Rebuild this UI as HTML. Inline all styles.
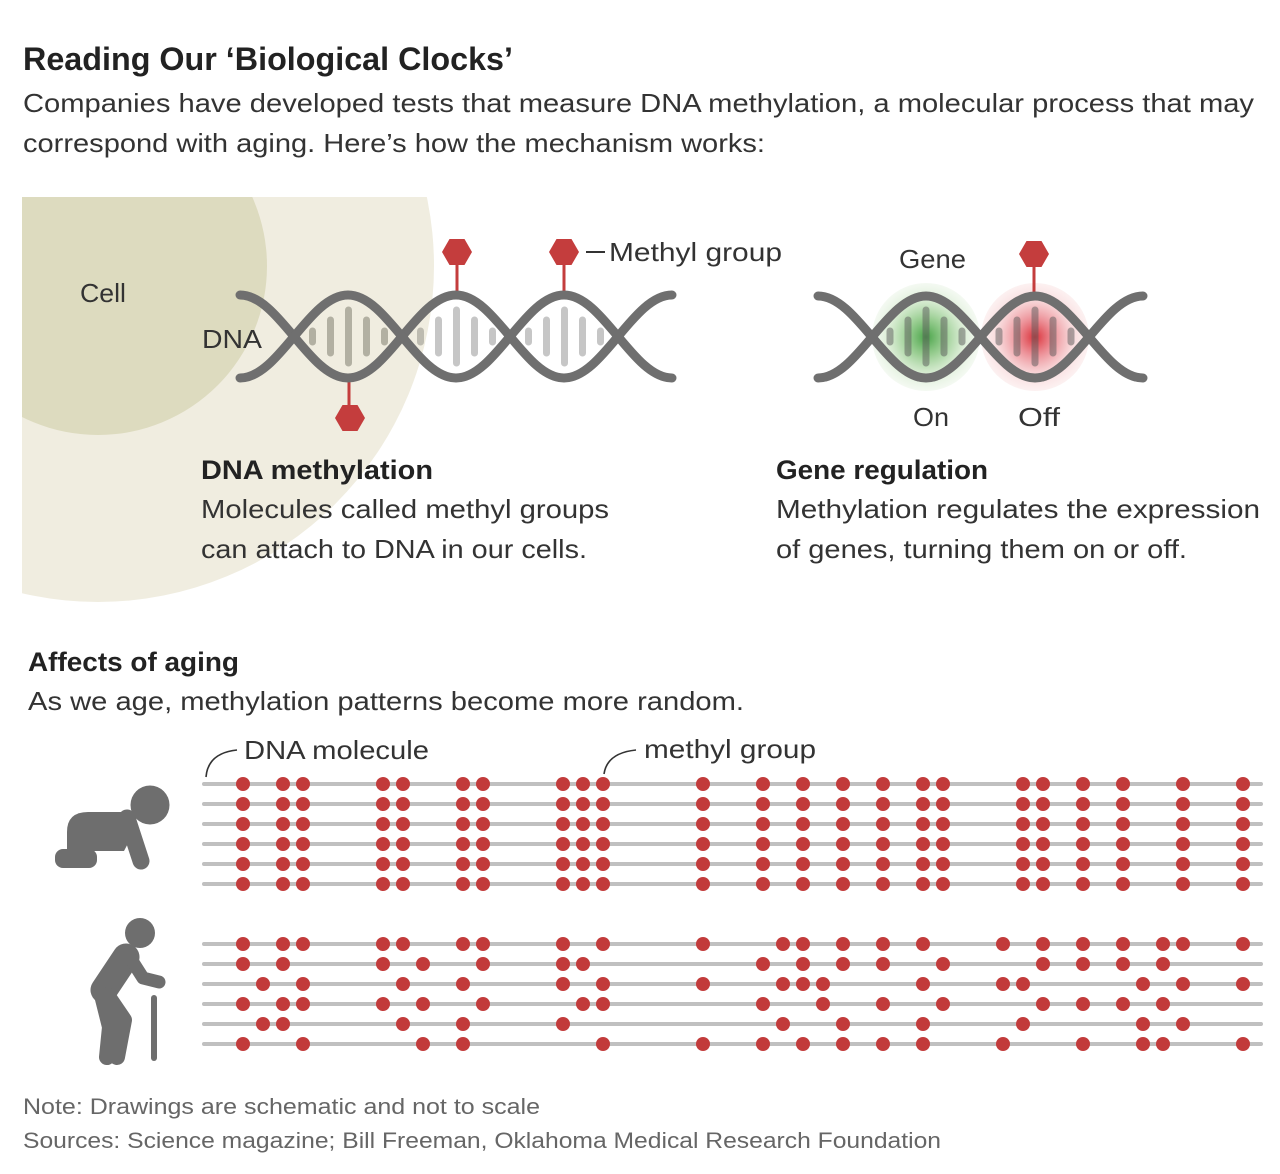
<!DOCTYPE html>
<html>
<head>
<meta charset="utf-8">
<style>
  html,body{margin:0;padding:0;background:#fff;}
  svg{display:block;}
  text{font-family:"Liberation Sans", Arial, sans-serif;}
</style>
</head>
<body>
<svg width="1280" height="1174" viewBox="0 0 1280 1174" xmlns="http://www.w3.org/2000/svg">
  <defs>
    <clipPath id="cellclip"><rect x="22" y="197" width="500" height="420"/></clipPath>
    <radialGradient id="gG" cx="0.5" cy="0.5" r="0.5">
      <stop offset="0" stop-color="#3e9e3e" stop-opacity="0.95"/>
      <stop offset="0.35" stop-color="#79be6f" stop-opacity="0.75"/>
      <stop offset="0.7" stop-color="#c4e2bb" stop-opacity="0.6"/>
      <stop offset="1" stop-color="#e4f1df" stop-opacity="0.4"/>
    </radialGradient>
    <radialGradient id="gR" cx="0.5" cy="0.5" r="0.5">
      <stop offset="0" stop-color="#d8262f" stop-opacity="0.95"/>
      <stop offset="0.35" stop-color="#e7717a" stop-opacity="0.75"/>
      <stop offset="0.7" stop-color="#f4c2c5" stop-opacity="0.6"/>
      <stop offset="1" stop-color="#f9e0e0" stop-opacity="0.45"/>
    </radialGradient>
  </defs>

  <!-- Title & subtitle -->
  <text x="23" y="70" font-size="32" font-weight="bold" fill="#222" textLength="490" lengthAdjust="spacingAndGlyphs">Reading Our ‘Biological Clocks’</text>
  <text x="23" y="112" font-size="26" fill="#333" textLength="1231" lengthAdjust="spacingAndGlyphs">Companies have developed tests that measure DNA methylation, a molecular process that may</text>
  <text x="23" y="152" font-size="26" fill="#333" textLength="742" lengthAdjust="spacingAndGlyphs">correspond with aging. Here’s how the mechanism works:</text>

  <!-- Cell -->
  <g clip-path="url(#cellclip)">
    <circle cx="98" cy="266" r="336" fill="#f0ede0"/>
    <circle cx="98" cy="266" r="169" fill="#dddbbf"/>
  </g>
  <text x="80" y="302" font-size="26" fill="#333" textLength="46" lengthAdjust="spacingAndGlyphs">Cell</text>
  <text x="202" y="348" font-size="26" fill="#333" textLength="60" lengthAdjust="spacingAndGlyphs">DNA</text>

  <!-- Main helix rungs -->
  <g fill="#b2b0a2">
    <rect x="309" y="327.5" width="7" height="18" rx="3.5"/>
    <rect x="327" y="316.5" width="7" height="40" rx="3.5"/>
    <rect x="345" y="306.5" width="7" height="60" rx="3.5"/>
    <rect x="363" y="316.5" width="7" height="40" rx="3.5"/>
    <rect x="381" y="327.5" width="7" height="18" rx="3.5"/>
  </g>
  <g fill="#c6c6c6">
    <rect x="417" y="327.5" width="7" height="18" rx="3.5" fill="#bdbbb0"/>
    <rect x="435" y="316.5" width="7" height="40" rx="3.5"/>
    <rect x="453" y="306.5" width="7" height="60" rx="3.5"/>
    <rect x="471" y="316.5" width="7" height="40" rx="3.5"/>
    <rect x="489" y="327.5" width="7" height="18" rx="3.5"/>
    <rect x="525" y="327.5" width="7" height="18" rx="3.5"/>
    <rect x="543" y="316.5" width="7" height="40" rx="3.5"/>
    <rect x="561" y="306.5" width="7" height="60" rx="3.5"/>
    <rect x="579" y="316.5" width="7" height="40" rx="3.5"/>
    <rect x="597" y="327.5" width="7" height="18" rx="3.5"/>
  </g>

  <!-- Methyl stems (main) -->
  <g stroke="#c43d3d" stroke-width="3">
    <line x1="457" y1="262" x2="457" y2="295"/>
    <line x1="564" y1="262" x2="564" y2="295"/>
    <line x1="349" y1="378" x2="349" y2="408"/>
  </g>

  <!-- Main helix strands -->
  <g fill="none" stroke="#6f6f6f" stroke-width="9" stroke-linecap="round">
    <path d="M240 295 C279 295 309 378 348 378 C387 378 417 295 456 295 C495 295 525 378 564 378 C603 378 633 295 672 295"/>
    <path d="M240 378 C279 378 309 295 348 295 C387 295 417 378 456 378 C495 378 525 295 564 295 C603 295 633 378 672 378"/>
  </g>

  <!-- Hexagons main -->
  <g fill="#c43d3d">
    <polygon points="442,252 449.5,239 464.5,239 472,252 464.5,265 449.5,265"/>
    <polygon points="549,252 556.5,239 571.5,239 579,252 571.5,265 556.5,265"/>
    <polygon points="335,418 342.5,405 357.5,405 365,418 357.5,431 342.5,431"/>
  </g>
  <line x1="586" y1="252" x2="605" y2="252" stroke="#333" stroke-width="2"/>
  <text x="609" y="261" font-size="26" fill="#333" textLength="173" lengthAdjust="spacingAndGlyphs">Methyl group</text>

  <!-- Gene helix -->
  <circle cx="926" cy="337" r="54" fill="url(#gG)"/>
  <circle cx="1035" cy="337" r="54" fill="url(#gR)"/>
  <g fill="#5a5a5a" fill-opacity="0.5">
    <rect x="886.5" y="327.5" width="7" height="18" rx="3.5"/>
    <rect x="904.5" y="316.5" width="7" height="40" rx="3.5"/>
    <rect x="922.5" y="306.5" width="7" height="60" rx="3.5"/>
    <rect x="940.5" y="316.5" width="7" height="40" rx="3.5"/>
    <rect x="958.5" y="327.5" width="7" height="18" rx="3.5"/>
    <rect x="995.5" y="327.5" width="7" height="18" rx="3.5"/>
    <rect x="1013.5" y="316.5" width="7" height="40" rx="3.5"/>
    <rect x="1031.5" y="306.5" width="7" height="60" rx="3.5"/>
    <rect x="1049.5" y="316.5" width="7" height="40" rx="3.5"/>
    <rect x="1067.5" y="327.5" width="7" height="18" rx="3.5"/>
  </g>
  <line x1="1034" y1="264" x2="1034" y2="296" stroke="#c43d3d" stroke-width="3"/>
  <g fill="none" stroke="#6f6f6f" stroke-width="9" stroke-linecap="round">
    <path d="M818 296 C857 296 887 378 926 378 C965 378 996 296 1035 296 C1074 296 1104 378 1143 378"/>
    <path d="M818 378 C857 378 887 296 926 296 C965 296 996 378 1035 378 C1074 378 1104 296 1143 296"/>
  </g>
  <polygon points="1019,254 1026.5,241 1041.5,241 1049,254 1041.5,267 1026.5,267" fill="#c43d3d"/>
  <text x="899" y="268" font-size="26" fill="#333" textLength="67" lengthAdjust="spacingAndGlyphs">Gene</text>
  <text x="913" y="426" font-size="26" fill="#333" textLength="36" lengthAdjust="spacingAndGlyphs">On</text>
  <text x="1018" y="426" font-size="26" fill="#333" textLength="42" lengthAdjust="spacingAndGlyphs">Off</text>

  <!-- Descriptions -->
  <text x="201" y="479" font-size="27" font-weight="bold" fill="#222" textLength="232" lengthAdjust="spacingAndGlyphs">DNA methylation</text>
  <text x="201" y="518" font-size="26" fill="#333" textLength="408" lengthAdjust="spacingAndGlyphs">Molecules called methyl groups</text>
  <text x="201" y="558" font-size="26" fill="#333" textLength="386" lengthAdjust="spacingAndGlyphs">can attach to DNA in our cells.</text>

  <text x="776" y="479" font-size="27" font-weight="bold" fill="#222" textLength="212" lengthAdjust="spacingAndGlyphs">Gene regulation</text>
  <text x="776" y="518" font-size="26" fill="#333" textLength="484" lengthAdjust="spacingAndGlyphs">Methylation regulates the expression</text>
  <text x="776" y="558" font-size="26" fill="#333" textLength="411" lengthAdjust="spacingAndGlyphs">of genes, turning them on or off.</text>

  <!-- Aging section -->
  <text x="28" y="671" font-size="27" font-weight="bold" fill="#222" textLength="211" lengthAdjust="spacingAndGlyphs">Affects of aging</text>
  <text x="28" y="710" font-size="26" fill="#333" textLength="716" lengthAdjust="spacingAndGlyphs">As we age, methylation patterns become more random.</text>

  <text x="244" y="759" font-size="26" fill="#333" textLength="185" lengthAdjust="spacingAndGlyphs">DNA molecule</text>
  <text x="644" y="758" font-size="26" fill="#333" textLength="172" lengthAdjust="spacingAndGlyphs">methyl group</text>
  <g fill="none" stroke="#333" stroke-width="1.6">
    <path d="M206 777 Q208 753 237 750"/>
    <path d="M604 774 Q607 753 636 750"/>
  </g>

  <!-- DNA lines -->
  <g stroke="#c0c0c0" stroke-width="4" stroke-linecap="round">
    <line x1="204" y1="784" x2="1261" y2="784"/>
    <line x1="204" y1="804" x2="1261" y2="804"/>
    <line x1="204" y1="824" x2="1261" y2="824"/>
    <line x1="204" y1="844" x2="1261" y2="844"/>
    <line x1="204" y1="864" x2="1261" y2="864"/>
    <line x1="204" y1="884" x2="1261" y2="884"/>
    <line x1="204" y1="944" x2="1261" y2="944"/>
    <line x1="204" y1="964" x2="1261" y2="964"/>
    <line x1="204" y1="984" x2="1261" y2="984"/>
    <line x1="204" y1="1004" x2="1261" y2="1004"/>
    <line x1="204" y1="1024" x2="1261" y2="1024"/>
    <line x1="204" y1="1044" x2="1261" y2="1044"/>
  </g>

  <!-- Baby dots: pattern repeated on 6 rows -->
  <defs>
    <g id="babyrow" fill="#c23b3b">
      <circle cx="243" cy="0" r="7"/><circle cx="283" cy="0" r="7"/><circle cx="303" cy="0" r="7"/>
      <circle cx="383" cy="0" r="7"/><circle cx="403" cy="0" r="7"/>
      <circle cx="463" cy="0" r="7"/><circle cx="483" cy="0" r="7"/>
      <circle cx="563" cy="0" r="7"/><circle cx="583" cy="0" r="7"/><circle cx="603" cy="0" r="7"/>
      <circle cx="703" cy="0" r="7"/><circle cx="763" cy="0" r="7"/><circle cx="803" cy="0" r="7"/>
      <circle cx="843" cy="0" r="7"/><circle cx="883" cy="0" r="7"/><circle cx="923" cy="0" r="7"/>
      <circle cx="943" cy="0" r="7"/><circle cx="1023" cy="0" r="7"/><circle cx="1043" cy="0" r="7"/>
      <circle cx="1083" cy="0" r="7"/><circle cx="1123" cy="0" r="7"/><circle cx="1183" cy="0" r="7"/>
      <circle cx="1243" cy="0" r="7"/>
    </g>
  </defs>
  <use href="#babyrow" y="784"/>
  <use href="#babyrow" y="804"/>
  <use href="#babyrow" y="824"/>
  <use href="#babyrow" y="844"/>
  <use href="#babyrow" y="864"/>
  <use href="#babyrow" y="884"/>

  <!-- Elder dots -->
  <g fill="#c23b3b">
    <!-- row 944 -->
    <circle cx="243" cy="944" r="7"/><circle cx="283" cy="944" r="7"/><circle cx="303" cy="944" r="7"/>
    <circle cx="383" cy="944" r="7"/><circle cx="403" cy="944" r="7"/><circle cx="463" cy="944" r="7"/>
    <circle cx="483" cy="944" r="7"/><circle cx="563" cy="944" r="7"/><circle cx="603" cy="944" r="7"/>
    <circle cx="703" cy="944" r="7"/><circle cx="783" cy="944" r="7"/><circle cx="803" cy="944" r="7"/>
    <circle cx="843" cy="944" r="7"/><circle cx="883" cy="944" r="7"/><circle cx="923" cy="944" r="7"/>
    <circle cx="1003" cy="944" r="7"/><circle cx="1043" cy="944" r="7"/><circle cx="1083" cy="944" r="7"/>
    <circle cx="1123" cy="944" r="7"/><circle cx="1163" cy="944" r="7"/><circle cx="1183" cy="944" r="7"/>
    <circle cx="1243" cy="944" r="7"/>
    <!-- row 964 -->
    <circle cx="243" cy="964" r="7"/><circle cx="283" cy="964" r="7"/><circle cx="383" cy="964" r="7"/>
    <circle cx="423" cy="964" r="7"/><circle cx="483" cy="964" r="7"/><circle cx="563" cy="964" r="7"/>
    <circle cx="583" cy="964" r="7"/><circle cx="763" cy="964" r="7"/><circle cx="803" cy="964" r="7"/>
    <circle cx="843" cy="964" r="7"/><circle cx="883" cy="964" r="7"/><circle cx="943" cy="964" r="7"/>
    <circle cx="1043" cy="964" r="7"/><circle cx="1083" cy="964" r="7"/><circle cx="1123" cy="964" r="7"/>
    <circle cx="1163" cy="964" r="7"/>
    <!-- row 984 -->
    <circle cx="263" cy="984" r="7"/><circle cx="303" cy="984" r="7"/><circle cx="403" cy="984" r="7"/>
    <circle cx="463" cy="984" r="7"/><circle cx="563" cy="984" r="7"/><circle cx="603" cy="984" r="7"/>
    <circle cx="703" cy="984" r="7"/><circle cx="783" cy="984" r="7"/><circle cx="803" cy="984" r="7"/>
    <circle cx="823" cy="984" r="7"/><circle cx="923" cy="984" r="7"/><circle cx="1003" cy="984" r="7"/>
    <circle cx="1023" cy="984" r="7"/><circle cx="1143" cy="984" r="7"/><circle cx="1183" cy="984" r="7"/>
    <circle cx="1243" cy="984" r="7"/>
    <!-- row 1004 -->
    <circle cx="243" cy="1004" r="7"/><circle cx="283" cy="1004" r="7"/><circle cx="303" cy="1004" r="7"/>
    <circle cx="383" cy="1004" r="7"/><circle cx="423" cy="1004" r="7"/><circle cx="483" cy="1004" r="7"/>
    <circle cx="583" cy="1004" r="7"/><circle cx="603" cy="1004" r="7"/><circle cx="763" cy="1004" r="7"/>
    <circle cx="823" cy="1004" r="7"/><circle cx="883" cy="1004" r="7"/><circle cx="943" cy="1004" r="7"/>
    <circle cx="1043" cy="1004" r="7"/><circle cx="1083" cy="1004" r="7"/><circle cx="1123" cy="1004" r="7"/>
    <circle cx="1163" cy="1004" r="7"/>
    <!-- row 1024 -->
    <circle cx="263" cy="1024" r="7"/><circle cx="283" cy="1024" r="7"/><circle cx="403" cy="1024" r="7"/>
    <circle cx="463" cy="1024" r="7"/><circle cx="563" cy="1024" r="7"/><circle cx="783" cy="1024" r="7"/>
    <circle cx="843" cy="1024" r="7"/><circle cx="923" cy="1024" r="7"/><circle cx="1023" cy="1024" r="7"/>
    <circle cx="1143" cy="1024" r="7"/><circle cx="1183" cy="1024" r="7"/>
    <!-- row 1044 -->
    <circle cx="243" cy="1044" r="7"/><circle cx="303" cy="1044" r="7"/><circle cx="423" cy="1044" r="7"/>
    <circle cx="463" cy="1044" r="7"/><circle cx="603" cy="1044" r="7"/><circle cx="703" cy="1044" r="7"/>
    <circle cx="763" cy="1044" r="7"/><circle cx="803" cy="1044" r="7"/><circle cx="843" cy="1044" r="7"/>
    <circle cx="883" cy="1044" r="7"/><circle cx="923" cy="1044" r="7"/><circle cx="1003" cy="1044" r="7"/>
    <circle cx="1083" cy="1044" r="7"/><circle cx="1143" cy="1044" r="7"/><circle cx="1163" cy="1044" r="7"/>
    <circle cx="1243" cy="1044" r="7"/>
  </g>

  <!-- Baby icon -->
  <g fill="#6e6e6e" stroke="none">
    <circle cx="150" cy="805" r="19.5"/>
    <path d="M67 832 Q67 812 88 812 L128 812 L134 832 L124 851 L67 851 Z"/>
    <rect x="55" y="849" width="42" height="19" rx="8"/>
  </g>
  <line x1="127" y1="818" x2="141" y2="861" stroke="#6e6e6e" stroke-width="17" stroke-linecap="round"/>

  <!-- Elderly icon -->
  <g fill="none" stroke="#6e6e6e" stroke-linecap="round" stroke-linejoin="round">
    <line x1="126" y1="957" x2="104" y2="990" stroke-width="27"/>
    <polyline points="129,956 143,978 159,982" stroke-width="13"/>
    <polyline points="107,995 124,1020 117,1057" stroke-width="16"/>
    <polyline points="102,995 110,1027 107,1057" stroke-width="16"/>
    <line x1="154" y1="998" x2="154" y2="1058" stroke-width="6"/>
  </g>
  <circle cx="140" cy="933" r="15" fill="#6e6e6e"/>

  <!-- Footer -->
  <text x="23" y="1114" font-size="22.5" fill="#666" textLength="517" lengthAdjust="spacingAndGlyphs">Note: Drawings are schematic and not to scale</text>
  <text x="23" y="1148" font-size="22.5" fill="#666" textLength="918" lengthAdjust="spacingAndGlyphs">Sources: Science magazine; Bill Freeman, Oklahoma Medical Research Foundation</text>
</svg>
</body>
</html>
